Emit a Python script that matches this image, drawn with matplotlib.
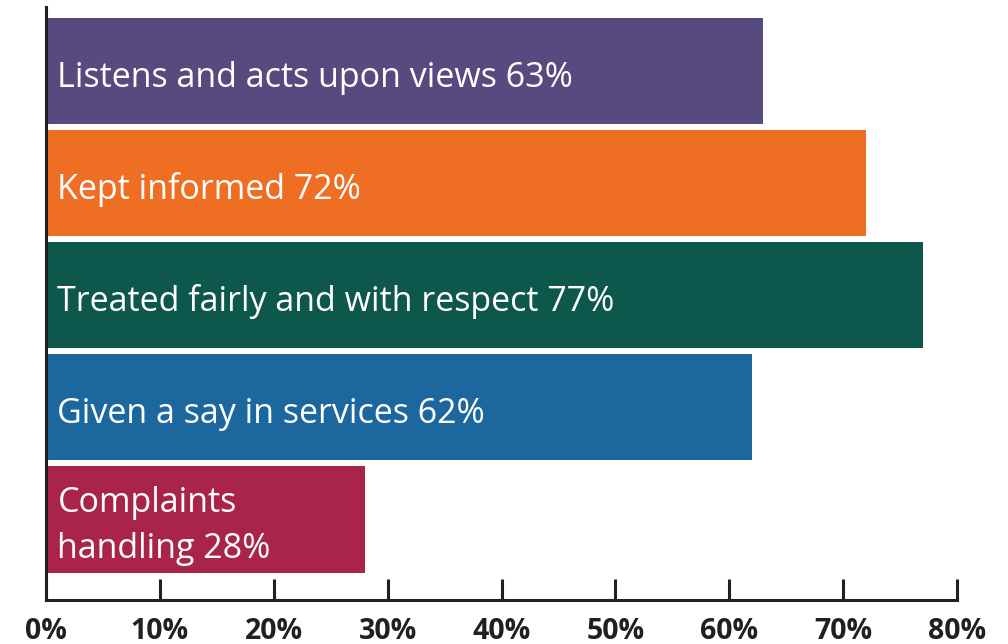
import matplotlib
matplotlib.use("Agg")
import matplotlib.pyplot as plt

labels = ["Listens and acts upon views 63%", "Kept informed 72%",
          "Treated fairly and with respect 77%", "Given a say in services 62%",
          "Complaints\nhandling 28%"]
values = [63, 72, 77, 62, 28]
colors = ["#574a7e", "#ee6f24", "#0e574c", "#1c679e", "#a9234a"]
ticks = [0, 10, 20, 30, 40, 50, 60, 70, 80]

plt.rcParams['font.family'] = ['Open Sans', 'DejaVu Sans']

fig = plt.figure(figsize=(10.08, 6.44), dpi=100)
ax = fig.add_axes([46/1008, 44/644, 911/1008, 593/644])

ypos = list(range(len(values)))
ax.barh(ypos, values, height=0.95, color=colors)
for y, lab in zip(ypos, labels):
    ax.text(1.0, y + 0.06, lab, color="white", fontsize=24.5, va="center",
            ha="left", linespacing=1.45)

ax.set_xlim(0, 80)
ax.set_ylim(4.72, -0.57)
ax.set_yticks([])
ax.set_xticks(ticks)
ax.set_xticklabels([f"{t}%" for t in ticks], fontsize=20.5, fontweight="bold",
                   color="#231f20")
ax.tick_params(axis="x", direction="in", length=15, width=2.2, color="#231f20", pad=12)
for s in ["top", "right"]:
    ax.spines[s].set_visible(False)
for s in ["left", "bottom"]:
    ax.spines[s].set_linewidth(2.2)
    ax.spines[s].set_color("#231f20")

fig.savefig("out.png", dpi=100)
